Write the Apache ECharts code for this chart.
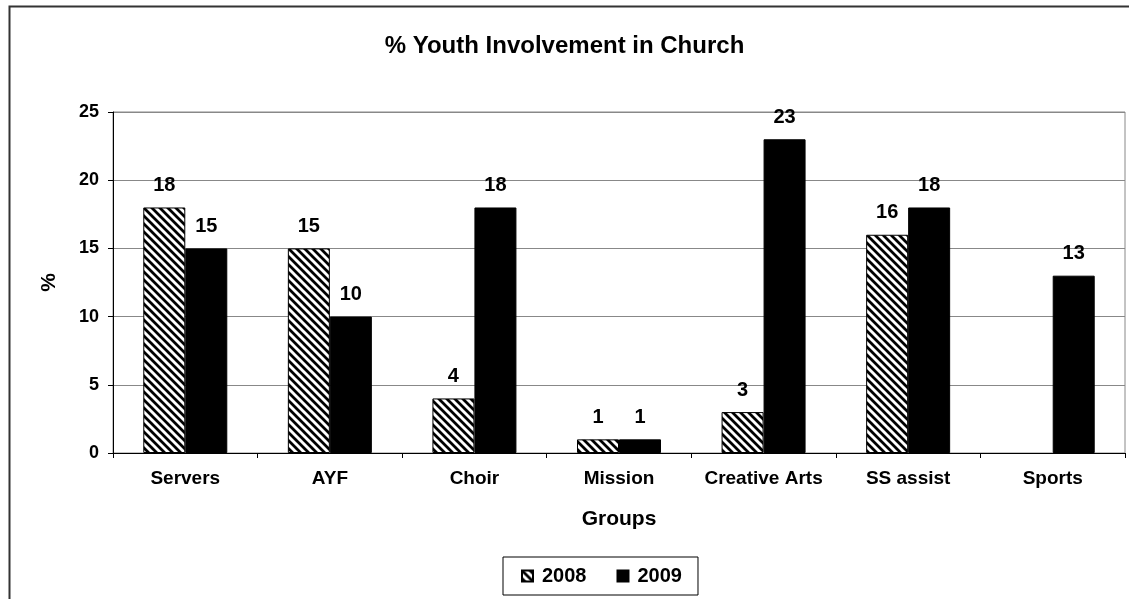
<!DOCTYPE html>
<html>
<head>
<meta charset="utf-8">
<script src="https://cdn.jsdelivr.net/npm/echarts@6/dist/echarts.min.js"></script>
<style>
  html, body { margin: 0; padding: 0; background: #fff; }
  #chart { width: 1129px; height: 599px; }
</style>
</head>
<body>
<div id="chart"></div>
<script>
const groups = ["Servers", "AYF", "Choir", "Mission", "Creative Arts", "SS assist", "Sports"];
const values2008 = [18, 15, 4, 1, 3, 16, null];
const values2009 = [15, 10, 18, 1, 23, 18, 13];
const yTicks = [0, 5, 10, 15, 20, 25];

// diagonal hatch for 2008
function hatch() {
  const c = document.createElement("canvas");
  c.width = 8; c.height = 8;
  const ctx = c.getContext("2d");
  ctx.fillStyle = "#fff";
  ctx.fillRect(0, 0, 8, 8);
  ctx.strokeStyle = "#000";
  ctx.lineWidth = 2.8;
  ctx.beginPath();
  ctx.moveTo(-2, -2); ctx.lineTo(10, 10);
  ctx.moveTo(-10, -2); ctx.lineTo(2, 10);
  ctx.moveTo(6, -2); ctx.lineTo(18, 10);
  ctx.stroke();
  return c;
}

const font = "Liberation Sans, Arial, sans-serif";
const chart = echarts.init(document.getElementById("chart"));

chart.setOption({
  animation: false,
  title: {
    text: "% Youth Involvement in Church",
    left: "center",
    top: 29,
    textStyle: { fontFamily: font, fontWeight: "bold", fontSize: 24, color: "#000" }
  },
  graphic: [{
    type: "rect",
    shape: { x: 9.5, y: 6.5, width: 1140, height: 620 },
    style: { fill: null, stroke: "#333", lineWidth: 2 },
    silent: true
  }, {
    type: "rect",
    shape: { x: 113, y: 112, width: 1012, height: 341 },
    style: { fill: null, stroke: "#888", lineWidth: 1 },
    silent: true,
    z: 0
  }],
  legend: {
    data: ["2008", "2009"],
    top: 557,
    left: 503,
    icon: "rect",
    itemWidth: 11,
    itemHeight: 11,
    itemGap: 30,
    padding: [9, 16, 9, 18],
    borderColor: "#000",
    borderWidth: 1,
    textStyle: { fontFamily: font, fontWeight: "bold", fontSize: 20, color: "#000", padding: [0, 0, 0, 4] }
  },
  grid: { left: 113, right: 4, top: 112, bottom: 146 },
  xAxis: {
    type: "category",
    data: groups,
    name: "Groups",
    nameLocation: "middle",
    nameGap: 56,
    nameTextStyle: { fontFamily: font, fontWeight: "bold", fontSize: 21, color: "#000" },
    axisLine: { lineStyle: { color: "#000" } },
    axisTick: { show: true, length: 5, lineStyle: { color: "#000" } },
    axisLabel: { interval: 0, fontFamily: font, fontWeight: "bold", fontSize: 19, color: "#000", margin: 16 }
  },
  yAxis: {
    type: "value",
    min: yTicks[0],
    max: yTicks[yTicks.length - 1],
    interval: 5,
    name: "%",
    nameLocation: "middle",
    nameGap: 53,
    nameTextStyle: { fontFamily: font, fontWeight: "bold", fontSize: 21, color: "#000" },
    axisLine: { show: true, lineStyle: { color: "#000" } },
    axisTick: { show: true, length: 5, lineStyle: { color: "#000" } },
    splitLine: { lineStyle: { color: "#888" } },
    axisLabel: { fontFamily: font, fontWeight: "bold", fontSize: 18, color: "#000", margin: 14 }
  },
  series: [
    {
      name: "2008",
      type: "bar",
      data: values2008,
      barWidth: 42,
      barGap: "0%",
      itemStyle: {
        color: { image: hatch(), repeat: "repeat" },
        borderColor: "#000",
        borderWidth: 1
      },
      label: {
        show: true,
        position: "top",
        distance: 12,
        fontFamily: font, fontWeight: "bold", fontSize: 20, color: "#000"
      }
    },
    {
      name: "2009",
      type: "bar",
      data: values2009,
      barWidth: 42,
      itemStyle: { color: "#000", borderColor: "#000", borderWidth: 1 },
      label: {
        show: true,
        position: "top",
        distance: 12,
        fontFamily: font, fontWeight: "bold", fontSize: 20, color: "#000"
      }
    }
  ]
});
</script>
</body>
</html>
